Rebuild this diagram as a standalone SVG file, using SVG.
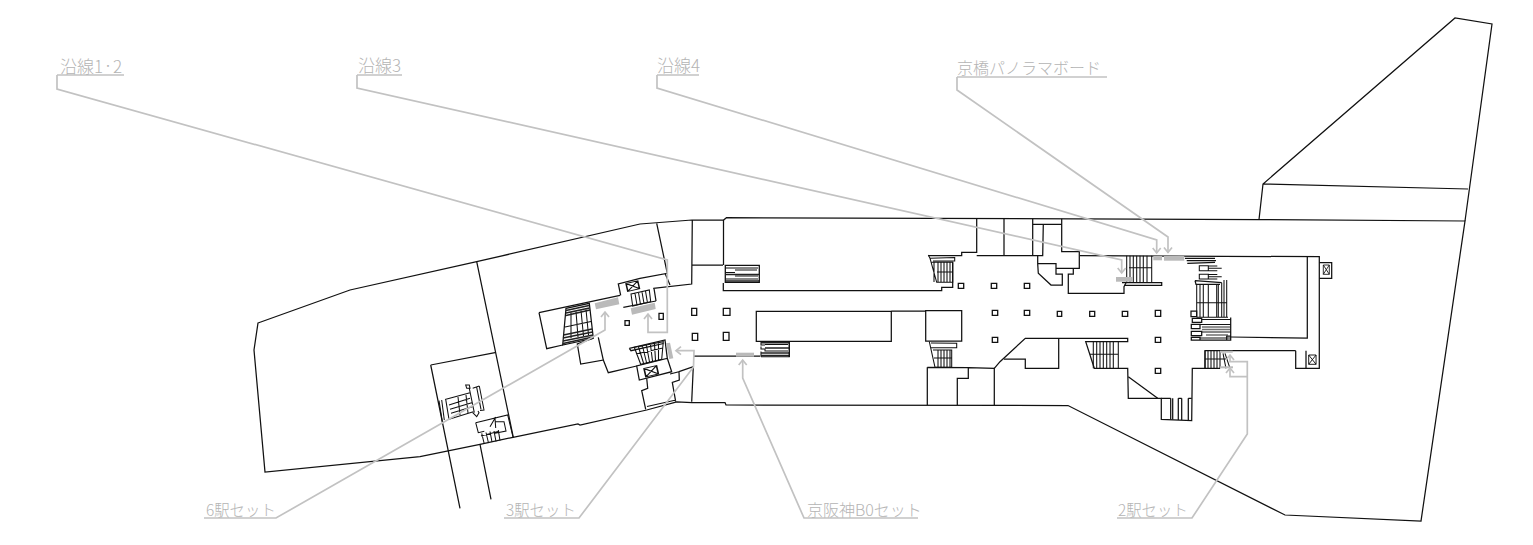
<svg xmlns="http://www.w3.org/2000/svg" width="1533" height="545" viewBox="0 0 1533 545">
<style>
.w{fill:none;stroke:#111;stroke-width:1.25;stroke-linejoin:miter}
.f{fill:#fff;stroke:#111;stroke-width:1.3}
.t{fill:none;stroke:#111;stroke-width:1.05}
.h{fill:none;stroke:#222;stroke-width:1.5}
.g{fill:#bababa;stroke:none}
.l{fill:none;stroke:#c2c2c2;stroke-width:1.7}
.a{fill:none;stroke:#c2c2c2;stroke-width:1.7;marker-end:url(#arr)}
text{font-family:"Noto Sans CJK JP","Noto Sans",sans-serif;font-size:16px;fill:#b4b4b4;font-weight:300}
.b{font-size:17px}
.s{font-size:15.4px}
.d{font-size:10px}
</style>
<defs>
<marker id="arr" markerUnits="userSpaceOnUse" markerWidth="12" markerHeight="12" refX="9" refY="6" orient="auto">
<path d="M4 2L9 6L4 10" fill="none" stroke="#c2c2c2" stroke-width="1.7"/>
</marker>
<path id="xb" d="M0 0H8V9.5H0ZM0 0L8 9.5M8 0L0 9.5" fill="none" stroke="#111" stroke-width="1"/>
</defs>

<g id="outline">
<path class="w" d="M258 323L350 290L476.7 261.7L640 224L692 220H723.5L726.5 217.7L1259 219.5L1465 221L1421 521L1285 515L1068 405.5L726 405L725 402.5H692L676.7 402L646.7 410L580 425L578 424L513 437.3L480 444.3L420 456.7L265 472L254 350Z"/>
<path class="w" d="M1465 221L1492 24L1455 18L1263 184L1259 219.5M1263 184L1468 189"/>
<path class="w" d="M476.7 261.7L513.3 437.3M430.7 365L495 352.7M430.7 365L460 508.3M480 444.3L491 499.3"/>
</g>

<g id="walls-west">
<path class="w" d="M656.7 223.3L667.3 273.3L640 278.3L618.3 284L620.7 295.3M692.3 220L691.7 284L653.3 288.3L654 288.5L656 301M692 265H723M723.5 220V265M665 273.3L670 285"/>
<path class="w" d="M539 312.7L620 295.3M539 312.7L546.7 348.7L562.7 345M592.7 338.3L577.3 344L580.7 364L603.3 360L598.3 337.3M603.3 360L608.3 372.7L636.7 366"/>
<path class="w" d="M623.3 307.3L656 301"/>
<path class="w" d="M629.3 348.3L665 340L667.3 358.3L636.7 366L639.3 380L671.7 371.7L667.3 358.3M629.3 348.3L631 350.7L663.5 343.5"/>
<path class="w" d="M646.7 378.3L647.7 388.3L641.7 390.7L645.7 409.3M670 374L679 371.7L679.3 380L672.3 382.3L675.7 401.7M679 371.7L693.3 366.7L691.7 401.7M694 356H760M647 406.5L676 400"/>
<use href="#xb" transform="translate(626 283.5) rotate(-13) scale(1.5 .85)"/>
<use href="#xb" transform="translate(644 368.5) rotate(-13) scale(1.6 .9)"/>
</g>

<g id="stairs-west">
<path class="w" d="M566 308.3L589.3 303.3L593.3 338.3L562.7 345Z"/>
<path class="t" d="M571 312.5V338M576 311.5L578 337M581 310.5L583.5 336M586 309.5L588.5 335M565 327L591 321.5"/>
<path class="h" d="M566 310.5L589 305.5M566 313L589.5 308M566 315.5L590 310M563.5 335L592 329M563 338L592.5 332M563 341L593 335M563 343.5L593 337"/>
<path class="t" d="M631 294L649.3 290L650.7 301.7L632.7 306ZM635 293.5L637 305M638.5 292.5L640.5 304.5M642 292L644 303.5M645.5 291L647.5 303"/>
<path class="t" d="M634.3 347.3L663.3 341.7L661.7 359.3L640.7 364.3ZM638.5 347L643.5 363M642.5 346L646.5 362.5M646.5 345.5L649.5 362M650.5 345L652.5 361M654.5 344L655.5 360.5M658.5 343.5L658.5 360M636 354L663 348"/>
</g>

<g id="columns-west">
<path class="f" d="M625 320.7H629.3V325.3H625ZM659 313.3H663.3V319.3H659ZM691.7 308.3H696.7V315.3H691.7ZM692.3 333.3H697.7V340.3H692.3ZM723.3 308.3H730V315.3H723.3ZM723.3 332.3H729V340.3H723.3Z"/>
</g>

<g id="small-stairs">
<path class="t" d="M439 400.7L442.3 421.7M441.7 400L444.3 420M445.7 399.3L449 419.3M445 399.5L470 392.7M449 419.3L473.3 411.7M449 405L470 398.3M450 409.3L471.7 402.7M451 413.3L472.3 406.7M458 397L460 415M466 395L468 413M465.7 385H469.3L470 388.3H466.7ZM469.3 388.3L474.3 412.7M472.7 412.7L476.7 416.7L479 412.7L478 411M472.7 388.3L479.3 386M476.7 387.3L481 409.3M479.3 386L484 410L480 410.5"/>
<path class="t" d="M475.7 422.7L507.7 415L513 437M475.7 422.7L478.3 432.7L484.3 431.3M495 421.7H504L506 431L495 433.3M481.7 433.3L484.3 444M486 432.5L488.5 443M490 431.5L492 442M494 431L496 441.5M498.3 430L500 440.7M481 436L498 431.5M490 426.7L495 418.3L495.7 428"/>
</g>

<g id="walls-centre">
<path class="w" d="M723.3 283V290.7H941.7V287.3H952.7V262.3M976.7 218.3V252.3H961.7V255.7H928.3"/>
<path class="w" d="M756.3 311.3H891.3V341.3H756.3ZM891.3 311H925.7M925.7 310.7H961.7V341H925.7Z"/>
<path class="w" d="M927.3 367.3V405M927.3 367.3L968.3 367.7L994.3 368.3V405M968.3 367.7V378.3H957.3V405"/>
<path class="w" d="M994.3 368.3L1000 361.7L1025.3 338.3H1127.7V341.7H1085.7L1094.3 368.3H1127.7L1128.3 398.3H1161.3V419.3L1191.7 420.7L1192.3 368.3H1220M1295.7 350.7V368.3H1319.3V256.7L1080 255.7M1205 368.3V350.7H1295.7"/>
<path class="w" d="M1004 359H1025.3V368.3H1058.7V338.3M1128.3 376.7L1157.7 398.3"/>
<path class="w" d="M1170.7 398.3V419.5M1172.7 398.3V419.5M1178.3 398.3V420M1181.7 398.3V420M1188.3 398.3V420.5M1161.3 398.3H1170.7M1178.3 398.3H1181.7M1188.3 398.3H1191.7"/>
</g>

<g id="walls-east">
<path class="w" d="M1004 218.7V255.7M1032.7 218.7V255.7M976.7 255.7H1042.7L1043.3 224.3M1032.7 224.3H1061.7V251.7H1079.3V268.3H1056V263.7H1037.7V255.7M1037.7 263.7L1038.3 273.3L1051 285H1062.3V274H1056V268.3M1073.3 268.3V274H1068.3V293.3H1124V286.7L1126 283M1061.7 218.7V224.3"/>
<path class="w" d="M1122 282.7H1161.7V285.3H1124"/>
<path class="w" d="M1307.3 256.7V338L1230.7 337"/>
<path class="w" d="M1319.3 262.7H1331.7V278.3H1319.3M1306 350.7V368.3"/>
<use href="#xb" transform="translate(1323.3 265) scale(.75 .98)"/>
<use href="#xb" transform="translate(1308.7 355) scale(.92 .98)"/>
</g>

<g id="stairs-centre">
<path class="f" d="M725.3 265.3H759.3V282.3H725.3Z"/>
<path class="t" d="M725.3 268H758M725.3 272.5H735M735 270H757M735 276H758M725.3 279H758"/>
<path class="h" d="M725.3 274.5H759M725.3 281H759"/>
<path class="t" d="M761 342H789.3V356.7H761M761 342V345H765M765 344.5H788M761 346.5V349H765V351H788M761 351.5V356.7"/>
<path class="h" d="M761 342.7H789M765 348H789M761 355.5H789.5M761 353H789"/>
<path class="w" d="M789.3 342V357"/>
<path class="t" d="M928.3 255L930 258.3L936.7 282.3H952.7V262.3H931.7M930 258.3L954.7 257.5V261H933M934 262.5V282M938 262.5V282.3M941 262.5V282.3M944 262.5V282.3M947 262.5V282.3M950 262.5V282.3M937 272H952.7"/>
<path class="t" d="M929.3 341.7L935 367.3H951.7V350H933M931 343L956.7 343.3V347.7H931M938 350V367.3M941 350V367.3M944 350V367.3M947 350V367.3M950 350V367.3M934 358H951.7"/>
</g>

<g id="stairs-east">
<path class="t" d="M1126.7 255.7V282.7M1130 255.7V282.7M1133.3 255.7V282.7M1136.7 255.7V282.7M1140 255.7V282.7M1143.3 255.7V282.7M1147 255.7V282.7M1151.7 255.7V282.7M1129 267.7H1151.7"/>
<path class="t" d="M1093.3 341.7V368.3M1096.7 341.7V368.3M1100 341.7V368.3M1103.3 341.7V368.3M1106.7 341.7V368.3M1110 341.7V368.3M1113.3 341.7V368.3M1118.3 341.7V368.3M1090 354.3H1118.3"/>
<path class="w" d="M1185 258.3H1215M1186.7 260.5H1216M1187.3 263.3L1215 262.3"/>
<path class="t" d="M1199.3 265.7H1208.3V270.7H1199.3ZM1208.3 266H1217.3M1208.3 268.3H1221.7M1208.3 270.7H1217.3M1199.3 274.3H1208.3V279H1199.3ZM1208.3 274.5H1217.3M1208.3 276.7H1221.7M1208.3 279H1217.3"/>
<path class="w" d="M1195 280.7L1221.7 282.7M1195 280.7L1196 284.3H1220"/>
<path class="t" d="M1196.7 284.3V317.3M1200 284.3V317.3M1203.3 284.3V317.3M1208.3 284.3V317.3M1216.7 284.3V317.3M1218.3 284.3V317.3M1221.7 282.7V317.3M1224 280V317.3M1226.7 280V317.3M1196.7 302.7H1226.7M1196.7 317.3H1228"/>
<path class="w" d="M1230.7 317.5V340H1191.3V337.3H1200V340M1192.3 318.3H1201.7V322.3H1192.3ZM1191.3 324.3H1200V328.7H1191.3ZM1191.3 331.3H1201.7V335.7H1191.3ZM1226.7 336H1230.7V340H1226.7Z"/>
<path class="t" d="M1201.7 319.5H1230.7M1200 324.5H1230.7M1201.7 332H1230.7M1200 338H1230.7"/>
<path class="h" stroke-opacity=".65" d="M1202 327H1230M1202 329.5H1230M1206 335H1228"/>
<path class="w" d="M1191 311H1196.7V316.7H1191Z"/>
<path class="t" d="M1205 350.7V368.3M1208 350.7V368.3M1211 350.7V368.3M1214 350.7V368.3M1217 350.7V368.3M1220 350.7V368.3M1205 359H1228M1225 353.3L1230 368.3M1223 353.3L1226 368.3"/>
</g>

<g id="columns-east">
<path class="f" d="M958.3 283.3H963.7V288.3H958.3ZM991.3 283.3H996.7V288.3H991.3ZM992.3 310.3H997.7V315.3H992.3ZM992.3 337.3H997.7V342.3H992.3ZM1024.3 283.3H1029.7V288.3H1024.3ZM1024.3 310.3H1029.7V315.3H1024.3ZM1057.3 311.3H1061.7V316.3H1057.3ZM1089.7 311.3H1094.7V316.3H1089.7ZM1122.3 311.3H1127.7V316.3H1122.3ZM1155.3 310.3H1160.7V316.3H1155.3ZM1155.3 337.3H1160.7V342.3H1155.3ZM1155.3 368.3H1160.7V373.3H1155.3Z"/>
</g>

<g id="sign-panels">
<path class="g" d="M594.7 303.3L618 297.3L619.3 304.3L596 309.3Z"/>
<path class="g" d="M630.7 308.3L654.7 302.7L655.7 309L632 314.7Z"/>
<path class="g" d="M666 343.3L670 342.7L673.3 358.3L669.3 359Z"/>
<rect class="g" x="736" y="352.7" width="18" height="4"/>
<rect class="g" x="1153.3" y="256" width="8.7" height="4.3"/>
<rect class="g" x="1164" y="256" width="20.3" height="4.7"/>
<rect class="g" x="1116" y="277" width="16.7" height="4.7"/>
<rect class="g" x="1220" y="350.7" width="12.7" height="2"/>
<rect class="g" x="1220" y="366.3" width="13" height="2"/>
</g>

<g id="connectors">
<path class="a" d="M57 75V89L667.3 260V332.3H648V314"/>
<path class="a" d="M357 75V88L1121.7 260V273"/>
<path class="a" d="M657 75V88L1156.7 240V253"/>
<path class="a" d="M957 77V90L1168 237V252.5"/>
<path class="a" d="M204 518H276L605 330V312"/>
<path class="a" d="M504 518H579L693.5 367L694 350.7H676"/>
<path class="a" d="M918 518H804L742.7 378V360"/>
<path class="a" d="M1117 518H1192L1247.3 434V361.7H1230V355"/>
<path class="a" d="M1247.3 376.7H1230V368"/>
<path class="l" d="M57 75H124M357 75H402M657 75H699M957 77H1107"/>
</g>

<g id="labels">
<text id="label-1" class="b" x="60" y="73">沿線1<tspan class="d" dy="-3">・</tspan><tspan dy="3">2</tspan></text>
<text id="label-2" class="b" x="358" y="72">沿線3</text>
<text id="label-3" class="b" x="657" y="72">沿線4</text>
<text id="label-4" x="957" y="74">京橋パノラマボード</text>
<text id="label-5" class="s" x="206" y="516">6駅セット</text>
<text id="label-6" class="s" x="506" y="516">3駅セット</text>
<text id="label-7" x="807" y="516">京阪神B0セット</text>
<text id="label-8" class="s" x="1118" y="516">2駅セット</text>
</g>
</svg>
